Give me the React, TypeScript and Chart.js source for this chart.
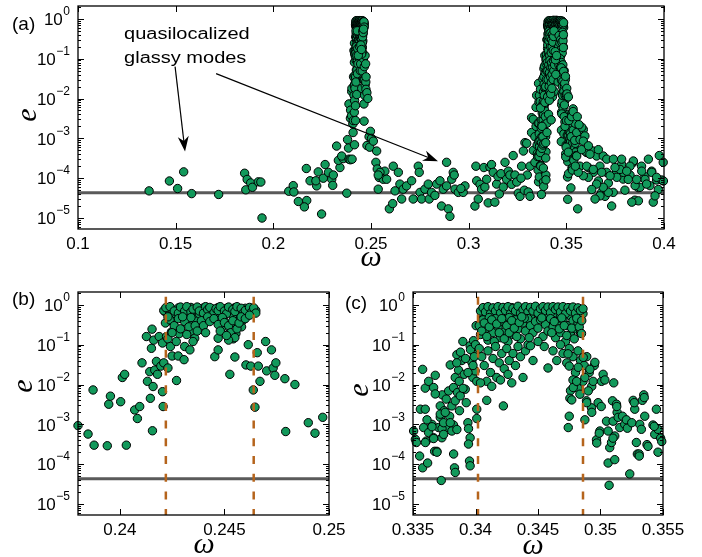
import React, { useEffect, useRef } from "react";
import { Chart, registerables } from "chart.js";
Chart.register(...registerables);

type Pt = [number, number];

// ---------------- data ----------------
const Y_MIN = 5.3e-6;
const Y_MAX = 2.1;
const NOISE_LEVEL = 4.3e-5;
const yTickExponents = [0, -1, -2, -3, -4, -5];
const aXTicks = [0.1, 0.15, 0.2, 0.25, 0.3, 0.35, 0.4];
const bXTicks = [0.24, 0.245, 0.25];
const cXTicks = [0.335, 0.34, 0.345, 0.35, 0.355];
const bBandEdges = [0.2422, 0.2464];
const cBandEdges = [0.3402, 0.3486];

// glassy modes below first peak
const lowModes: Pt[] = [
  [0.1364, 4.8e-5], [0.1468, 8.5e-5], [0.151, 5.5e-5], [0.1541, 1.44e-4], [0.1582, 4.1e-5], [0.172, 3.9e-5],
  [0.1853, 1.33e-4], [0.1866, 9.3e-5], [0.1859, 5.1e-5], [0.1884, 7.6e-5], [0.1893, 5.9e-5], [0.1923, 8.1e-5],
  [0.1936, 8.0e-5], [0.1942, 1.0e-5], [0.2079, 4.7e-5], [0.2102, 6.5e-5], [0.2105, 4.5e-5], [0.2128, 2.6e-5],
  [0.2169, 1.75e-4], [0.2171, 2.75e-5], [0.2159, 1.9e-5], [0.2188, 8.6e-5], [0.2222, 6.4e-5], [0.223, 1.44e-4],
  [0.2218, 8.6e-5], [0.2247, 1.26e-5], [0.2256, 1.0e-4], [0.2265, 2.2e-4], [0.2282, 1.4e-4], [0.2299, 9.4e-5],
  [0.2304, 6.6e-5], [0.2324, 6.4e-4], [0.2341, 1.85e-4], [0.2333, 2.8e-4], [0.2358, 3.1e-4], [0.2376, 4.2e-5],
  [0.235, 3.6e-4], [0.2307, 1.2e-4],
];

// modes between the two peaks
const midModes: Pt[] = [
  [0.2503, 1.0e-3], [0.2512, 8.5e-4], [0.2529, 4.8e-4], [0.2525, 2.5e-4], [0.2532, 1.7e-4], [0.2542, 1.04e-4],
  [0.2537, 5.3e-5], [0.2571, 1.5e-4], [0.2563, 9.4e-5], [0.258, 9.4e-5], [0.2546, 1.4e-4], [0.2537, 1.2e-4],
  [0.2614, 2.0e-4], [0.264, 1.4e-4], [0.2594, 1.7e-5], [0.2611, 2.3e-5], [0.2623, 4.8e-5], [0.2648, 7.1e-5],
  [0.2657, 3.0e-5], [0.2665, 5.3e-5], [0.2682, 6.4e-5], [0.2708, 8.6e-5], [0.2716, 3.0e-5], [0.2742, 2.0e-4],
  [0.2747, 1.4e-4], [0.2751, 4.4e-5], [0.2759, 3.0e-5], [0.2776, 5.3e-5], [0.2793, 7.1e-5], [0.2798, 3.0e-5],
  [0.281, 4.4e-5], [0.2827, 3.7e-5], [0.2836, 7.1e-5], [0.2853, 8.6e-5], [0.2861, 2.0e-5], [0.287, 5.3e-5],
  [0.2887, 2.5e-4], [0.2887, 6.4e-5], [0.2896, 1.7e-5], [0.2904, 1.1e-5], [0.2913, 9.4e-5], [0.2921, 1.4e-4],
  [0.293, 5.3e-5], [0.2926, 1.2e-4], [0.2947, 4.4e-5], [0.2972, 4.4e-5], [0.2981, 6.4e-5], [0.296, 5.5e-5],
  [0.3032, 2.0e-5], [0.3037, 2.0e-4], [0.3041, 8.6e-5], [0.3049, 3.0e-5], [0.3058, 7.0e-5], [0.3066, 5.3e-5],
  [0.3078, 1.85e-4], [0.3083, 6.0e-5], [0.3092, 9.4e-5], [0.31, 2.4e-5], [0.3109, 1.9e-4], [0.3117, 2.2e-4],
  [0.3126, 1.4e-4], [0.3134, 2.5e-5], [0.3143, 7.1e-5], [0.315, 1.1e-4], [0.3157, 4.0e-5], [0.3165, 1.3e-4],
  [0.3177, 6.0e-5], [0.3186, 2.5e-4], [0.3194, 9.4e-5], [0.3203, 1.5e-4], [0.3211, 1.2e-4], [0.322, 7.0e-5],
  [0.3228, 3.7e-4], [0.3237, 1.2e-4], [0.3246, 8.0e-5], [0.3254, 4.2e-5], [0.3263, 3.5e-5], [0.3271, 2.0e-4],
  [0.328, 4.8e-4], [0.3285, 5.0e-5], [0.3288, 7.8e-4], [0.3297, 7.5e-4], [0.33, 1.2e-4], [0.3305, 4.5e-5],
  [0.3314, 3.5e-5], [0.3314, 2.0e-4], [0.3322, 1.4e-3], [0.3322, 3.3e-3], [0.3331, 3.0e-3], [0.3331, 5.0e-4],
  [0.3339, 1.1e-3], [0.3339, 2.5e-4], [0.3345, 2.0e-3], [0.3345, 6.0e-3], [0.3348, 1.2e-2], [0.3268, 1.0e-4],
];

// modes above second peak
const highModes: Pt[] = [
  [0.3553, 1.4e-3], [0.357, 9.3e-4], [0.3587, 1.66e-3], [0.3595, 1.15e-3], [0.3604, 4.4e-4], [0.3553, 3.6e-4],
  [0.3558, 1.7e-5], [0.357, 2.0e-4], [0.3612, 1.85e-4], [0.3638, 4.8e-4], [0.3655, 3.6e-4], [0.3672, 2.0e-4],
  [0.3689, 3.6e-4], [0.3706, 1.4e-4], [0.3638, 1.4e-4], [0.3664, 8.5e-5], [0.3681, 4.4e-5], [0.3698, 3.5e-5],
  [0.3715, 7.5e-5], [0.3732, 2.0e-5], [0.374, 4.4e-5], [0.3757, 1.4e-4], [0.3783, 2.2e-4], [0.3791, 9.5e-5],
  [0.38, 5.0e-5], [0.3826, 1.2e-4], [0.3843, 2.5e-4], [0.3851, 2.8e-5], [0.3868, 5.8e-5], [0.3885, 2.0e-4],
  [0.3902, 1.1e-4], [0.392, 3.0e-4], [0.3937, 1.5e-4], [0.3945, 2.5e-5], [0.3962, 9.0e-5], [0.3976, 3.7e-4],
  [0.3996, 2.5e-4], [0.3988, 9.0e-5], [0.3579, 1.9e-3], [0.3587, 8.5e-4], [0.3596, 4.8e-4], [0.3621, 4.0e-4],
  [0.3664, 5.2e-4], [0.3604, 2.0e-4], [0.3638, 1.66e-4], [0.3707, 3.0e-4], [0.3741, 3.0e-4], [0.3783, 3.0e-4],
  [0.3843, 2.7e-4], [0.3997, 8.5e-5], [0.3971, 5.2e-5], [0.3954, 3.6e-5], [0.3903, 9.3e-5], [0.3928, 6.5e-5],
  [0.3877, 5.9e-5], [0.3852, 6.5e-5], [0.3869, 2.7e-5], [0.3835, 2.5e-5], [0.3817, 9.3e-5], [0.3792, 1.4e-4],
  [0.3758, 1.05e-4], [0.3715, 4.4e-5], [0.3689, 5.9e-5], [0.3672, 3.6e-5], [0.3655, 7.1e-5], [0.3647, 3.0e-5],
  [0.363, 5.2e-5], [0.3613, 1.05e-4], [0.3587, 1.15e-4], [0.3775, 1.66e-4], [0.3826, 2.0e-4], [0.3886, 1.5e-4],
  [0.3937, 1.4e-4], [0.3962, 1.05e-4], [0.3681, 1.4e-4], [0.3724, 1.15e-4], [0.3749, 1.85e-4], [0.3809, 1.5e-4],
  [0.386, 9.3e-5], [0.3911, 7.1e-5], [0.3578, 5.2e-4], [0.3613, 6.5e-4], [0.3561, 1.4e-4], [0.3556, 3.5e-3],
  [0.3565, 2.2e-3], [0.3546, 2.0e-4],
];

// first peak (window of panel b)
const peak1Modes: Pt[] = [
  [0.238, 9.3e-4], [0.23848, 5.7e-4], [0.23877, 3.0e-4], [0.23872, 7.3e-3], [0.2394, 2.9e-4], [0.23947, 3.2e-3],
  [0.23955, 5.1e-3], [0.24004, 3.7e-3], [0.24012, 1.5e-2], [0.24023, 1.8e-2], [0.24031, 3.0e-4], [0.24071, 2.3e-3],
  [0.24084, 1.4e-3], [0.24095, 2.8e-3], [0.24106, 3.5e-2], [0.24132, 1.2e-2], [0.24127, 0.16], [0.24143, 2.1e-2],
  [0.24146, 4.5e-3], [0.24151, 8.1e-2], [0.24154, 0.245], [0.24156, 6.9e-4], [0.24159, 8.9e-3], [0.24162, 0.13],
  [0.24167, 2.3e-2], [0.24175, 3.8e-2], [0.2418, 1.8e-2], [0.24188, 0.16], [0.24196, 2.9e-2], [0.24204, 0.11],
  [0.24204, 6.6e-3], [0.24207, 2.8e-3], [0.2421, 3.5e-2],
  [0.24215, 0.68], [0.24218, 0.35], [0.24223, 0.16], [0.2423, 0.14], [0.2423, 2.6e-2], [0.24247, 0.21],
  [0.24242, 0.09], [0.2425, 5.2e-2], [0.24255, 0.36], [0.24255, 0.62], [0.24271, 1.26e-2], [0.24279, 5.2e-2],
  [0.24284, 0.19], [0.24295, 0.51], [0.24307, 4.2e-2], [0.2431, 0.09], [0.2432, 0.68], [0.24327, 0.35],
  [0.24335, 7.4e-2], [0.24343, 0.21], [0.24358, 0.145], [0.24367, 0.42], [0.24383, 0.75], [0.24398, 0.35],
  [0.24414, 0.68], [0.2443, 0.51], [0.24454, 5.0e-2], [0.2447, 0.145], [0.2447, 7.4e-2], [0.24486, 0.26],
  [0.24494, 0.44], [0.2451, 0.68], [0.24523, 0.19], [0.24526, 1.8e-2], [0.24534, 0.35], [0.24542, 0.14],
  [0.2455, 4.9e-2], [0.24555, 0.19], [0.24558, 0.51], [0.24566, 0.68], [0.24582, 0.28], [0.2459, 0.42],
  [0.24603, 3.1e-2], [0.24614, 0.1], [0.24619, 0.75],
  [0.24626, 2.9e-2], [0.24638, 7.3e-3], [0.24646, 2.7e-3], [0.24657, 6.3e-2], [0.24662, 2.9e-2], [0.2467, 1.2e-2],
  [0.24697, 0.12], [0.24702, 2.2e-2], [0.24725, 7.4e-2], [0.24733, 2.6e-2], [0.24741, 1.7e-2], [0.24746, 3.5e-2],
  [0.24789, 1.4e-2], [0.24793, 6.6e-4], [0.24837, 1.0e-2], [0.24901, 1.1e-3], [0.24933, 6.0e-4], [0.2497, 1.5e-3],
  [0.2421, 0.72], [0.2423, 0.8], [0.2424, 0.62], [0.2425, 0.75], [0.2427, 0.68], [0.2428, 0.84], [0.243, 0.64],
  [0.2431, 0.78], [0.2433, 0.7], [0.2434, 0.86], [0.2436, 0.62], [0.2437, 0.76], [0.2439, 0.66], [0.244, 0.84],
  [0.2441, 0.72], [0.2443, 0.62], [0.2444, 0.8], [0.2445, 0.7], [0.2447, 0.86], [0.2448, 0.64], [0.2449, 0.75],
  [0.2451, 0.82], [0.2452, 0.66], [0.2453, 0.72], [0.2455, 0.85], [0.2456, 0.62], [0.2457, 0.77], [0.2459, 0.7],
  [0.246, 0.82], [0.2461, 0.64], [0.2463, 0.74], [0.2464, 0.78], [0.2465, 0.72], [0.2426, 0.58], [0.2432, 0.56],
  [0.2438, 0.6], [0.2446, 0.58], [0.2454, 0.56], [0.2458, 0.6], [0.2462, 0.6],
  [0.2422, 0.85], [0.2424, 0.9], [0.2426, 0.7], [0.2428, 0.62], [0.2429, 0.88], [0.2431, 0.7], [0.2432, 0.9],
  [0.2434, 0.66], [0.2435, 0.78], [0.2437, 0.88], [0.2438, 0.7], [0.244, 0.62], [0.2441, 0.9], [0.2442, 0.76],
  [0.2443, 0.86], [0.2445, 0.64], [0.2446, 0.8], [0.2447, 0.72], [0.2448, 0.9], [0.245, 0.7], [0.2451, 0.6],
  [0.2452, 0.88], [0.2454, 0.76], [0.2455, 0.68], [0.2456, 0.9], [0.2458, 0.82], [0.2459, 0.62], [0.246, 0.72],
  [0.2462, 0.86], [0.2463, 0.66], [0.2464, 0.84], [0.2465, 0.62],
  [0.2424, 0.42], [0.2426, 0.3], [0.2428, 0.45], [0.2429, 0.25], [0.2431, 0.38], [0.2433, 0.28], [0.2434, 0.48],
  [0.2436, 0.3], [0.2437, 0.22], [0.2439, 0.4], [0.244, 0.3], [0.2442, 0.5], [0.2443, 0.38], [0.2445, 0.45],
  [0.2447, 0.32], [0.2449, 0.48], [0.245, 0.36], [0.2452, 0.3], [0.2453, 0.2], [0.2454, 0.4], [0.2456, 0.25],
  [0.2457, 0.35], [0.2455, 0.15], [0.2452, 0.13], [0.2425, 0.2], [0.2427, 0.12], [0.2432, 0.18], [0.2435, 0.12],
  [0.2423, 0.5], [0.243, 0.5], [0.2441, 0.2], [0.2448, 0.22], [0.2451, 0.17], [0.2458, 0.5], [0.246, 0.45],
  [0.2462, 0.55],
];

// second peak (window of panel c)
const peak2Modes: Pt[] = [
  [0.33505, 6.8e-4], [0.33519, 4.2e-4], [0.33527, 3.5e-4], [0.33553, 1.6e-4], [0.33559, 2.4e-3], [0.33577, 2.4e-2],
  [0.33585, 8.3e-4], [0.33577, 8.1e-5], [0.33598, 2.4e-3], [0.33598, 8.1e-3], [0.33606, 3.8e-4], [0.33617, 1.07e-4],
  [0.33625, 6.2e-4], [0.33625, 1.2e-2], [0.33652, 1.0e-3], [0.33665, 8.4e-3], [0.33665, 4.6e-4], [0.33673, 2.1e-4],
  [0.33678, 1.7e-2], [0.33691, 2.1e-4], [0.33705, 8.3e-4], [0.33718, 2.9e-3], [0.33718, 1.5e-3], [0.33726, 3.9e-5],
  [0.33731, 4.6e-4], [0.33734, 5.5e-3], [0.33745, 1.0e-3], [0.3375, 2.2e-3], [0.33766, 4.3e-3], [0.33771, 8.3e-4],
  [0.33785, 6.9e-3], [0.33793, 1.6e-3], [0.33798, 3.1e-2], [0.33811, 2.9e-3], [0.33824, 9.6e-4], [0.33824, 8.4e-3],
  [0.33832, 8.1e-5], [0.33838, 1.5e-2], [0.33838, 3.9e-3], [0.33851, 5.6e-2], [0.33856, 6.3e-3], [0.33864, 2.3e-2],
  [0.33872, 2.2e-3], [0.33878, 5.2e-3], [0.33891, 4.0e-2], [0.33899, 0.12], [0.3391, 1.8e-2], [0.33918, 7.6e-3],
  [0.33926, 3.5e-3], [0.33939, 1.1e-3], [0.33952, 1.2e-4], [0.33957, 4.6e-4], [0.33957, 9.4e-2], [0.33971, 3.6e-2],
  [0.33979, 1.5e-2], [0.33984, 0.126], [0.33992, 5.8e-2], [0.33997, 2.2e-2], [0.34005, 0.3], [0.3401, 2.4e-3],
  [0.3401, 1.2e-2], [0.33599, 3.5e-4], [0.33612, 1.3e-3], [0.33652, 8.7e-4], [0.33665, 4.4e-4], [0.33692, 2.0e-4],
  [0.33678, 5.8e-3], [0.33718, 1.8e-3], [0.33732, 7.8e-4], [0.33745, 1.1e-3], [0.33745, 5.6e-4], [0.33758, 2.0e-3],
  [0.33798, 1.1e-3], [0.33811, 6.8e-4], [0.33825, 1.8e-4], [0.33838, 6.2e-5], [0.33851, 7.4e-4], [0.33944, 7.8e-4],
  [0.33944, 3.2e-4], [0.33957, 9.1e-5], [0.3401, 1.4e-3],
  [0.3385, 3.5e-2], [0.3388, 6.5e-2], [0.3392, 4.5e-2], [0.3394, 2.0e-2], [0.3396, 7.5e-2], [0.3398, 3.0e-2],
  [0.34, 0.1], [0.3399, 5.0e-2], [0.3387, 1.2e-2], [0.339, 8.0e-3],
  // top band
  [0.3405, 0.62], [0.3407, 0.72], [0.3409, 0.55], [0.3411, 0.8], [0.3413, 0.66], [0.3415, 0.75], [0.3417, 0.58],
  [0.3419, 0.83], [0.3421, 0.7], [0.3423, 0.6], [0.3425, 0.78], [0.3427, 0.68], [0.3429, 0.85], [0.3431, 0.62],
  [0.3433, 0.74], [0.3435, 0.8], [0.3437, 0.66], [0.3439, 0.84], [0.3441, 0.7], [0.3443, 0.58], [0.3445, 0.78],
  [0.3447, 0.86], [0.3449, 0.64], [0.3451, 0.74], [0.3453, 0.82], [0.3455, 0.68], [0.3457, 0.6], [0.3459, 0.79],
  [0.3461, 0.7], [0.3463, 0.84], [0.3465, 0.62], [0.3467, 0.75], [0.3469, 0.8], [0.3471, 0.66], [0.3473, 0.72],
  [0.3475, 0.83], [0.3477, 0.6], [0.3479, 0.76], [0.3481, 0.7], [0.3483, 0.78], [0.3485, 0.65], [0.3418, 0.5],
  [0.3428, 0.52], [0.3444, 0.5], [0.3456, 0.52], [0.3468, 0.5], [0.3476, 0.53], [0.3486, 0.6],
  [0.3404, 0.7], [0.3406, 0.85], [0.3408, 0.66], [0.341, 0.9], [0.3412, 0.6], [0.3414, 0.84], [0.3416, 0.7],
  [0.3418, 0.9], [0.342, 0.62], [0.3422, 0.86], [0.3424, 0.72], [0.3426, 0.9], [0.3428, 0.6], [0.343, 0.82],
  [0.3432, 0.7], [0.3434, 0.92], [0.3436, 0.62], [0.3438, 0.76], [0.344, 0.9], [0.3442, 0.66], [0.3444, 0.86],
  [0.3446, 0.7], [0.3448, 0.92], [0.345, 0.62], [0.3452, 0.8], [0.3454, 0.9], [0.3456, 0.72], [0.3458, 0.88],
  [0.346, 0.64], [0.3462, 0.9], [0.3464, 0.76], [0.3466, 0.88], [0.3468, 0.66], [0.347, 0.9], [0.3472, 0.6],
  [0.3474, 0.85], [0.3476, 0.7], [0.3478, 0.88], [0.348, 0.62], [0.3482, 0.84], [0.3484, 0.72], [0.3486, 0.8],
  // middle band
  [0.3403, 0.3], [0.3404, 0.18], [0.3406, 0.42], [0.3408, 0.25], [0.341, 0.13], [0.3412, 0.35], [0.3414, 0.2],
  [0.3416, 0.45], [0.3418, 0.28], [0.342, 0.15], [0.3422, 0.38], [0.3424, 0.22], [0.3426, 0.12], [0.3428, 0.32],
  [0.343, 0.18], [0.3432, 0.42], [0.3434, 0.25], [0.3436, 0.14], [0.3438, 0.35], [0.344, 0.22], [0.3442, 0.45],
  [0.3444, 0.3], [0.3446, 0.2], [0.3448, 0.38], [0.345, 0.26], [0.3452, 0.42], [0.3454, 0.16], [0.3456, 0.32],
  [0.3458, 0.22], [0.346, 0.45], [0.3462, 0.28], [0.3464, 0.15], [0.3466, 0.36], [0.3468, 0.2], [0.347, 0.42],
  [0.3472, 0.12], [0.3474, 0.3], [0.3476, 0.18], [0.3478, 0.4], [0.348, 0.25], [0.3482, 0.35], [0.3484, 0.2],
  [0.3411, 0.48], [0.3427, 0.48], [0.3439, 0.46], [0.3453, 0.47], [0.3469, 0.47], [0.3481, 0.46],
  [0.3405, 0.22], [0.3407, 0.35], [0.3409, 0.16], [0.3411, 0.28], [0.3413, 0.42], [0.3415, 0.12], [0.3417, 0.33],
  [0.3419, 0.2], [0.3421, 0.45], [0.3423, 0.14], [0.3425, 0.3], [0.3427, 0.2], [0.3429, 0.4], [0.3431, 0.26],
  [0.3433, 0.16], [0.3435, 0.36], [0.3437, 0.5], [0.3461, 0.2], [0.3463, 0.38], [0.3467, 0.25], [0.3471, 0.3],
  [0.3473, 0.17], [0.3477, 0.26], [0.3479, 0.14], [0.3483, 0.28], [0.3485, 0.4],
  // lower band
  [0.3403, 0.08], [0.3405, 0.05], [0.3407, 0.03], [0.3409, 0.012], [0.341, 0.07], [0.3412, 0.02], [0.3414, 0.045],
  [0.3416, 0.09], [0.3417, 0.015], [0.3419, 0.035], [0.3421, 0.06], [0.3423, 0.025], [0.3425, 0.08], [0.3427, 0.04],
  [0.3429, 0.011], [0.343, 0.06], [0.3432, 0.03], [0.3434, 0.09], [0.3436, 0.05], [0.3438, 0.015], [0.344, 0.07],
  [0.3442, 0.1], [0.3404, 0.011], [0.3413, 0.009], [0.342, 0.013], [0.3426, 0.018], [0.3409, 4.0e-3],
  [0.34223, 2.9e-3], [0.3455, 0.09], [0.3458, 0.026], [0.3462, 0.07], [0.3465, 0.04], [0.3468, 0.1], [0.347, 0.06],
  [0.3473, 0.035], [0.3475, 0.08], [0.3478, 0.05], [0.348, 0.02], [0.3482, 0.07], [0.3484, 0.04], [0.3486, 0.012],
  [0.3487, 0.03], [0.3489, 0.05], [0.3491, 0.02], [0.3493, 0.009], [0.3495, 0.03], [0.3446, 0.04], [0.3444, 0.094],
  [0.3443, 0.15], [0.345, 0.12], [0.3474, 0.059], [0.3478, 0.013], [0.3482, 0.008], [0.3476, 0.007],
  // right flank
  [0.34742, 8.3e-4], [0.3475, 1.6e-3], [0.3475, 2.9e-2], [0.34755, 4.5e-3], [0.34782, 8.4e-3], [0.34809, 1.2e-2],
  [0.34822, 2.7e-2], [0.34835, 5.7e-3], [0.34848, 0.19], [0.34862, 4.8e-2], [0.34875, 1.5e-2], [0.34875, 1.3e-3],
  [0.34888, 3.9e-3], [0.34902, 6.9e-3], [0.34915, 2.4e-2], [0.34928, 2.6e-3], [0.34941, 1.2e-2], [0.34955, 3.6e-2],
  [0.34968, 4.1e-4], [0.34981, 3.5e-3], [0.34995, 6.8e-4], [0.35008, 1.2e-2], [0.35021, 1.8e-2], [0.35035, 1.3e-2],
  [0.35048, 1.2e-3], [0.35061, 6.8e-4], [0.35061, 1.07e-4], [0.35069, 2.95e-5], [0.35074, 2.6e-4], [0.35088, 3.5e-4],
  [0.35096, 3.9e-3], [0.35101, 1.2e-3], [0.35106, 1.1e-2], [0.35114, 1.3e-4], [0.35114, 5.1e-4], [0.35128, 3.2e-3],
  [0.35133, 2.0e-3], [0.35141, 1.5e-3], [0.35154, 8.3e-4], [0.35176, 1.6e-3], [0.35194, 1.0e-3], [0.35207, 1.3e-3],
  [0.35215, 8.0e-4], [0.35234, 5.7e-5], [0.35261, 4.0e-3], [0.35274, 2.4e-3], [0.35287, 3.5e-4], [0.35295, 1.8e-4],
  [0.35309, 1.8e-4], [0.35314, 1.0e-3], [0.35327, 7.5e-4], [0.35335, 4.0e-3], [0.35346, 5.5e-3], [0.35354, 1.6e-3],
  [0.35372, 3.1e-4], [0.3542, 9.6e-4], [0.35434, 5.6e-4], [0.35447, 2.4e-3], [0.3546, 7.5e-4], [0.35481, 4.5e-4],
  [0.3477, 4.1e-3], [0.3489, 3.5e-3], [0.3493, 2.0e-3], [0.3497, 3.4e-4], [0.3499, 6.0e-4], [0.35006, 2.8e-3],
  [0.351, 4.5e-4], [0.3513, 2.8e-3], [0.3525, 1.1e-3], [0.3527, 3.5e-3], [0.3531, 1.6e-4], [0.3535, 4.7e-3],
  [0.3538, 2.8e-4], [0.3543, 8.9e-4], [0.3549, 3.7e-4],
];

const allModes: Pt[] = [...lowModes, ...peak1Modes, ...midModes, ...peak2Modes, ...highModes];

// annotation (data coordinates of panel a)
const annotationLines = ["quasilocalized", "glassy modes"];
const arrowA: Pt[] = [[0.1497, 0.063], [0.1548, 4.7e-4]];
const arrowB: Pt[] = [[0.1707, 0.042], [0.2843, 2.66e-4]];

// ---------------- drawing helpers ----------------
const SANS = '"Liberation Sans", Arial, Helvetica, sans-serif';
const SERIF = '"Liberation Serif", "Times New Roman", serif';
const GREEN = "#12995b";
const ORANGE = "#b5641c";

function txt(ctx: CanvasRenderingContext2D, s: string, x: number, y: number, font: string,
  align: CanvasTextAlign, base: CanvasTextBaseline, sx = 1, rot = 0) {
  ctx.save();
  ctx.font = font;
  ctx.textAlign = align;
  ctx.textBaseline = base;
  ctx.fillStyle = "#000";
  ctx.translate(x, y);
  if (rot) ctx.rotate(rot);
  ctx.scale(sx, 1);
  ctx.fillText(s, 0, 0);
  ctx.restore();
}

function arrow(ctx: CanvasRenderingContext2D, x0: number, y0: number, x1: number, y1: number) {
  const ang = Math.atan2(y1 - y0, x1 - x0);
  const L = 15, W = 5.5;
  ctx.save();
  ctx.strokeStyle = "#000";
  ctx.fillStyle = "#000";
  ctx.lineWidth = 1.2;
  ctx.beginPath();
  ctx.moveTo(x0, y0);
  ctx.lineTo(x1 - Math.cos(ang) * L * 0.6, y1 - Math.sin(ang) * L * 0.6);
  ctx.stroke();
  ctx.translate(x1, y1);
  ctx.rotate(ang);
  ctx.beginPath();
  ctx.moveTo(0, 0);
  ctx.lineTo(-L, -W);
  ctx.lineTo(-L * 0.7, 0);
  ctx.lineTo(-L, W);
  ctx.closePath();
  ctx.fill();
  ctx.restore();
}

const decorPlugin = {
  id: "decor",
  afterDraw(chart: any, _a: any, opts: any) {
    const ctx: CanvasRenderingContext2D = chart.ctx;
    const { left, right, top, bottom } = chart.chartArea;
    const xs = chart.scales.x, ys = chart.scales.y;
    ctx.save();
    ctx.strokeStyle = "#000";
    ctx.lineWidth = 1;
    ctx.beginPath();
    for (let d = -6; d <= 0; d++) {
      for (let k = 1; k <= 9; k++) {
        const v = k * Math.pow(10, d);
        if (v < Y_MIN || v > Y_MAX) continue;
        const py = Math.round(ys.getPixelForValue(v)) + 0.5;
        const len = k === 1 ? 6 : 3;
        ctx.moveTo(left, py); ctx.lineTo(left + len, py);
        ctx.moveTo(right, py); ctx.lineTo(right - len, py);
      }
    }
    for (const t of opts.xTicks as number[]) {
      const px = Math.round(xs.getPixelForValue(t)) + 0.5;
      ctx.moveTo(px, bottom); ctx.lineTo(px, bottom - 6);
      ctx.moveTo(px, top); ctx.lineTo(px, top + 6);
    }
    ctx.stroke();
    ctx.lineWidth = 1.3;
    ctx.strokeRect(left, top, right - left, bottom - top);
    ctx.restore();

    for (const e of yTickExponents) {
      const py = ys.getPixelForValue(Math.pow(10, e));
      const es = e === 0 ? "0" : "\u2212" + String(-e);
      ctx.save();
      ctx.font = "12px " + SANS;
      const ew = ctx.measureText(es).width;
      ctx.restore();
      const ex = left - 8 - ew;
      txt(ctx, es, ex, py - 7, "12px " + SANS, "left", "middle");
      txt(ctx, "10", ex - 0.5, py + 1.5, "17px " + SANS, "right", "middle");
    }
    for (const t of opts.xTicks as number[]) {
      txt(ctx, String(t), xs.getPixelForValue(t), bottom + 15, "17px " + SANS, "center", "middle");
    }
    txt(ctx, opts.letter, opts.letterPos[0], opts.letterPos[1], "19px " + SANS, "left", "middle");
    txt(ctx, "e", opts.ePos[0], opts.ePos[1], "italic 30px " + SERIF, "center", "middle", 1, -Math.PI / 2);
    txt(ctx, "\u03c9", opts.wPos[0], opts.wPos[1], "italic 30px " + SERIF, "center", "middle");

    if (opts.annotate) {
      const ax = xs.getPixelForValue(0.1236);
      txt(ctx, annotationLines[0], ax, ys.getPixelForValue(0.31), "16px " + SANS, "left", "alphabetic", 1.25);
      txt(ctx, annotationLines[1], ax, ys.getPixelForValue(0.078), "16px " + SANS, "left", "alphabetic", 1.25);
      for (const a of [arrowA, arrowB]) {
        arrow(ctx, xs.getPixelForValue(a[0][0]), ys.getPixelForValue(a[0][1]),
          xs.getPixelForValue(a[1][0]), ys.getPixelForValue(a[1][1]));
      }
    }
  },
};

type PanelDef = {
  left: number; top: number; width: number; height: number;
  pad: { left: number; top: number; right: number; bottom: number };
  xMin: number; xMax: number; xTicks: number[]; edges: number[];
  letter: string; letterPos: number[]; ePos: number[]; wPos: number[]; annotate: boolean;
};

const panels: PanelDef[] = [
  {
    left: 0, top: 0, width: 702, height: 270, pad: { left: 78, top: 6, right: 38, bottom: 41 },
    xMin: 0.1, xMax: 0.4, xTicks: aXTicks, edges: [], letter: "(a)", letterPos: [12, 25],
    ePos: [28, 115], wPos: [371, 258], annotate: true,
  },
  {
    left: 0, top: 270, width: 360, height: 287, pad: { left: 78, top: 22, right: 31, bottom: 42 },
    xMin: 0.238, xMax: 0.25, xTicks: bXTicks, edges: bBandEdges, letter: "(b)", letterPos: [12, 30],
    ePos: [24, 116], wPos: [204, 275], annotate: false,
  },
  {
    left: 340, top: 270, width: 362, height: 287, pad: { left: 73, top: 22, right: 39, bottom: 42 },
    xMin: 0.335, xMax: 0.355, xTicks: cXTicks, edges: cBandEdges, letter: "(c)", letterPos: [5, 34],
    ePos: [20, 120], wPos: [193, 276], annotate: false,
  },
];

function Panel({ def }: { def: PanelDef }) {
  const ref = useRef<HTMLCanvasElement | null>(null);
  useEffect(() => {
    if (!ref.current) return;
    const pts = allModes
      .filter((p) => p[0] >= def.xMin - 1e-9 && p[0] <= def.xMax + 1e-9)
      .map((p) => ({ x: p[0], y: p[1] }));
    const datasets: any[] = [
      {
        type: "line",
        data: [{ x: def.xMin, y: NOISE_LEVEL }, { x: def.xMax, y: NOISE_LEVEL }],
        borderColor: "#5a5a5a", borderWidth: 3, pointRadius: 0, order: 3,
      },
      {
        type: "scatter",
        data: pts,
        backgroundColor: GREEN, borderColor: "#000", borderWidth: 1, pointRadius: 4.2, order: 2, clip: false,
      },
    ];
    for (const e of def.edges) {
      datasets.push({
        type: "line",
        data: [{ x: e, y: Y_MAX }, { x: e, y: Y_MIN }],
        borderColor: ORANGE, borderWidth: 2.5, borderDash: [8, 9.7], borderDashOffset: 13,
        pointRadius: 0, order: 1,
      });
    }
    const chart = new Chart(ref.current, {
      type: "scatter",
      data: { datasets },
      options: {
        animation: false,
        responsive: false,
        devicePixelRatio: 1,
        layout: { padding: def.pad },
        scales: {
          x: { type: "linear", min: def.xMin, max: def.xMax, display: false },
          y: { type: "logarithmic", min: Y_MIN, max: Y_MAX, display: false },
        },
        plugins: {
          legend: { display: false },
          tooltip: { enabled: false },
          decor: {
            xTicks: def.xTicks, letter: def.letter, letterPos: def.letterPos,
            ePos: def.ePos, wPos: def.wPos, annotate: def.annotate,
          },
        } as any,
      },
      plugins: [decorPlugin as any],
    });
    return () => chart.destroy();
  }, [def]);
  return (
    <canvas
      ref={ref}
      width={def.width}
      height={def.height}
      style={{ position: "absolute", left: def.left, top: def.top, width: def.width, height: def.height }}
    />
  );
}

export default function App() {
  return (
    <div style={{ position: "absolute", left: 0, top: 0, width: 702, height: 557, background: "#fff" }}>
      {panels.map((p, i) => (
        <Panel key={i} def={p} />
      ))}
    </div>
  );
}
